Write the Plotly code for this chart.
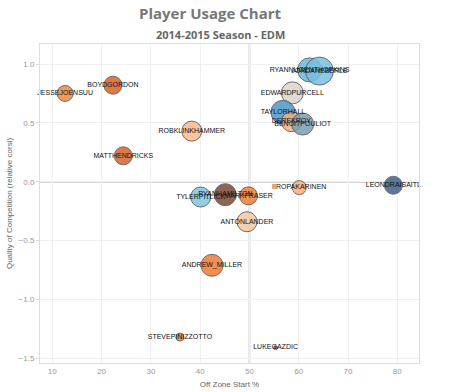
import plotly.graph_objects as go

players = ["JESSEJOENSUU", "BOYDGORDON", "ROBKLINKHAMMER", "MATTHENDRICKS",
           "TYLERPITLICK", "RYANHAMILTON", "MARKFRASER", "ANTONLANDER",
           "IIROPAKARINEN", "LEONDRAISAITL", "ANDREW_MILLER", "STEVEPINIZZOTTO",
           "LUKEGAZDIC", "RYANNUGENTHOPKINS", "JORDANEBERLE", "EDWARDPURCELL",
           "TAYLORHALL", "DEREKROY", "BENOITPOULIOT"]
off_zone_start = [12.6, 22.3, 38.3, 24.4, 40.1, 45.1, 49.8, 49.5, 60.1, 79.2,
                  42.4, 35.9, 55.3, 62.2, 64.2, 58.7, 56.8, 58.5, 60.8]
qoc_rel_corsi = [0.75, 0.82, 0.43, 0.22, -0.13, -0.11, -0.12, -0.34, -0.05, -0.03,
                 -0.71, -1.32, -1.41, 0.95, 0.94, 0.755, 0.59, 0.51, 0.49]
ice_time = [16, 18, 20, 18, 20, 22, 18, 20, 14, 18, 22, 8, 4, 24, 28, 22, 24, 20, 22]

colors = ["#f08a3c", "#d9622b", "#f9b98a", "#d9622b", "#7fc5e0", "#7d4a35",
          "#f07f33", "#f8c8a0", "#f8b07c", "#40628c", "#ef7c35", "#e8873f",
          "#b8562a", "#6bb8dc", "#78c0e0", "#dcd4cc", "#4e97c8", "#f0b080", "#7a9fb0"]

x_ticks = [10, 20, 30, 40, 50, 60, 70, 80]
y_ticks = [-1.5, -1.0, -0.5, 0.0, 0.5, 1.0]

fig = go.Figure()
fig.add_trace(go.Scatter(
    x=off_zone_start, y=qoc_rel_corsi, text=players,
    mode="markers+text", textposition="middle center", cliponaxis=False,
    textfont=dict(family="Liberation Sans, Arial", size=7, color="#111"),
    marker=dict(size=ice_time, sizemode="diameter", color=colors, opacity=0.85,
                line=dict(color="#555", width=1)),
    hoverinfo="text", showlegend=False,
))

fig.add_shape(type="line", x0=50, x1=50, y0=0, y1=1, yref="paper",
              line=dict(color="#aaa", width=1.5), layer="below")
fig.add_shape(type="line", x0=0, x1=1, xref="paper", y0=0, y1=0,
              line=dict(color="#aaa", width=1.5), layer="below")

PL, PT, PW, PH = 40, 44, 379, 319
fig.add_annotation(text="<b>Player Usage Chart</b>", xref="paper", yref="paper",
                   x=(210 - PL) / PW, y=(PT + PH - 13) / PH,
                   showarrow=False, xanchor="center", yanchor="middle",
                   font=dict(family="Open Sans, Lato, sans-serif", size=15, color="#777"))
fig.add_annotation(text="<b>2014-2015 Season - EDM</b>", xref="paper", yref="paper",
                   x=(220 - PL) / PW, y=(PT + PH - 35) / PH,
                   showarrow=False, xanchor="center", yanchor="middle",
                   font=dict(family="Open Sans, Lato, sans-serif", size=11, color="#666"))

fig.update_layout(
    width=450, height=392,
    margin=dict(l=PL, r=450 - PL - PW, t=PT, b=392 - PT - PH),
    paper_bgcolor="white", plot_bgcolor="white",
    font=dict(family="Liberation Sans, Arial", color="#888"),
    xaxis=dict(range=[7.5, 84.4], tickvals=x_ticks, showgrid=True, gridcolor="#f0f0f0",
               zeroline=False, showline=True, linecolor="#ddd", mirror=True,
               automargin=False,
               tickfont=dict(size=8, color="#999"),
               title=dict(text="Off Zone Start %", font=dict(size=8, color="#666"), standoff=6)),
    yaxis=dict(range=[-1.54, 1.17], tickvals=y_ticks, tickformat=".1f",
               showgrid=True, gridcolor="#f0f0f0",
               zeroline=False, showline=True, linecolor="#ddd", mirror=True,
               automargin=False,
               ticks="outside", ticklen=3, tickcolor="#ddd",
               tickfont=dict(size=8, color="#999"),
               title=dict(text="Quality of Competition (relative corsi)",
                          font=dict(size=8, color="#666"), standoff=4)),
)

fig.write_html("out.html", config={"displayModeBar": False},
               post_script="document.body.style.margin='0px';")
